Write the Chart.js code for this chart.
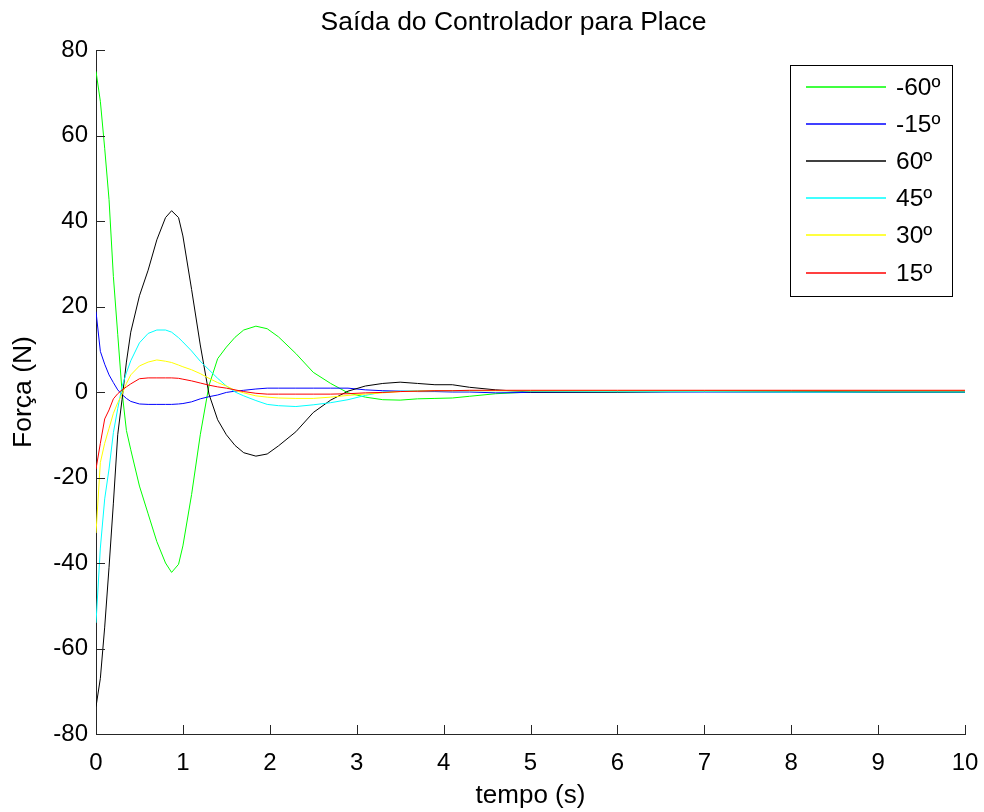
<!DOCTYPE html>
<html>
<head>
<meta charset="utf-8">
<title>Saída do Controlador para Place</title>
<script src="https://cdn.jsdelivr.net/npm/chart.js@4.4.1/dist/chart.umd.min.js"></script>
<style>
  html, body { margin: 0; padding: 0; background: #fff; }
  #wrap { width: 984px; height: 812px; }
</style>
</head>
<body>
<div id="wrap"><canvas id="grafico"></canvas></div>
<script>
// instantes de amostragem (s)
const tempo = [0, 0.05, 0.1, 0.15, 0.2, 0.25, 0.3, 0.35, 0.4, 0.5, 0.6, 0.7, 0.8, 0.87, 0.95, 1.0,
  1.1, 1.2, 1.3, 1.4, 1.5, 1.6, 1.7, 1.84, 1.97, 2.1, 2.3, 2.5, 2.7, 2.9, 3.1, 3.3, 3.5, 3.7, 3.9,
  4.1, 4.3, 4.6, 5, 6, 7, 8, 9, 10];

// força (N) para cada ângulo inicial
const forcaM60 = [75, 68, 57, 45, 27, 13.5, 0, -9, -13.5, -22, -28.5, -35, -40, -42.2, -40.3, -36,
  -24, -10, 1.5, 7.8, 10.5, 12.8, 14.5, 15.4, 14.8, 12.9, 9.0, 4.6, 2.0, -0.2, -1.2, -1.8, -1.9, -1.6, -1.5,
  -1.4, -1.0, -0.4, 0, 0, 0.1, 0, 0, 0];
const forcaM15 = [18.8, 9.5, 6.5, 4, 2.2, 0.5, -0.6, -1.5, -2.2, -2.8, -2.9, -2.9, -2.9, -2.9, -2.8, -2.7,
  -2.3, -1.6, -1.1, -0.7, -0.1, 0.2, 0.4, 0.7, 0.9, 0.9, 0.9, 0.9, 0.9, 0.9, 0.5, 0.3, 0.2, 0.1, 0.1,
  0, 0, -0.2, -0.1, 0, 0, 0, 0, 0];
const forca60 = [-73.6, -67, -55, -41, -26, -10, -1.7, 7, 14, 22.5, 28.5, 35.6, 40.8, 42.4, 40.8, 36.5,
  24, 11, -0.5, -6.5, -10, -12.5, -14.2, -15, -14.5, -12.6, -9.3, -4.8, -1.9, 0.2, 1.4, 2.0, 2.3, 2.0, 1.7,
  1.7, 1.1, 0.5, 0, 0, 0.2, 0.2, 0, 0];
const forca45 = [-54, -36.5, -25, -18, -9.5, -3.9, 1.3, 4.5, 7.3, 11.5, 13.7, 14.5, 14.5, 14, 12.7, 11.7,
  9.6, 7.2, 5.2, 3.2, 1.4, 0, -0.9, -2.0, -2.9, -3.2, -3.4, -3.0, -2.5, -1.8, -0.8, 0, 0.2, 0.3, 0.3,
  0.3, 0.3, 0.3, 0.2, 0.1, 0.1, 0, 0, 0];
const forca30 = [-33, -16.5, -12, -8.5, -5, -2.5, -0.5, 2, 4, 6.1, 7.0, 7.5, 7.2, 6.9, 6.3, 5.9,
  5.2, 4.3, 3.2, 2.2, 1.4, 0.4, -0.2, -0.9, -1.2, -1.4, -1.5, -1.5, -1.2, -0.8, -0.5, -0.2, 0.1, 0.2, 0.3,
  0.3, 0.3, 0.3, 0.3, 0.3, 0.3, 0.3, 0.3, 0.3];
const forca15 = [-18, -12, -6.3, -4.2, -1.6, -0.4, 0.5, 1.2, 1.9, 3.1, 3.3, 3.3, 3.3, 3.3, 3.2, 3.0,
  2.6, 2.1, 1.6, 1.2, 0.9, 0.5, 0.1, -0.3, -0.5, -0.5, -0.5, -0.5, -0.5, -0.4, -0.2, -0.1, 0.1, 0.2, 0.3,
  0.3, 0.4, 0.4, 0.4, 0.4, 0.4, 0.4, 0.4, 0.4];

const rotulos = ['-60º', '-15º', '60º', '45º', '30º', '15º'];
const series = [forcaM60, forcaM15, forca60, forca45, forca30, forca15];
const cores = ['#00ff00', '#0000ff', '#000000', '#00ffff', '#ffff00', '#ff0000'];

const titulo = 'Saída do Controlador para Place';
const FONTE = "'Liberation Sans', Arial, sans-serif";

// título desenhado à mão, um pouco à esquerda do centro do eixo
const tituloPlugin = {
  id: 'tituloPlugin',
  afterDraw(chart) {
    const { ctx, chartArea: a } = chart;
    ctx.save();
    ctx.font = '26.5px ' + FONTE;
    ctx.fillStyle = '#000';
    ctx.textAlign = 'center';
    ctx.textBaseline = 'middle';
    ctx.fillText(titulo, (a.left + a.right) / 2 - 17, 23);
    ctx.restore();
  }
};

// ticks para dentro, estilo matlab
const ticksInternos = {
  id: 'ticksInternos',
  afterDatasetsDraw(chart) {
    const { ctx, chartArea: a, scales: { x, y } } = chart;
    ctx.save();
    ctx.strokeStyle = '#262626';
    ctx.lineWidth = 1;
    ctx.beginPath();
    x.ticks.forEach(t => {
      const px = Math.round(x.getPixelForValue(t.value)) + 0.5;
      ctx.moveTo(px, a.bottom);
      ctx.lineTo(px, a.bottom - 9);
    });
    y.ticks.forEach(t => {
      const py = Math.round(y.getPixelForValue(t.value)) + 0.5;
      ctx.moveTo(a.left, py);
      ctx.lineTo(a.left + 9, py);
    });
    ctx.stroke();
    ctx.restore();
  }
};

// legenda em caixa no canto superior direito
const legendaCaixa = {
  id: 'legendaCaixa',
  afterDraw(chart) {
    const { ctx } = chart;
    const bx = 790.5, by = 65.5, bw = 162, bh = 231;
    ctx.save();
    ctx.fillStyle = '#fff';
    ctx.fillRect(bx, by, bw, bh);
    ctx.strokeStyle = '#000';
    ctx.lineWidth = 1;
    ctx.strokeRect(bx, by, bw, bh);
    ctx.font = '24.5px ' + FONTE;
    ctx.textBaseline = 'middle';
    ctx.textAlign = 'left';
    rotulos.forEach((txt, i) => {
      const ly = Math.round(87 + i * 37.1);
      ctx.beginPath();
      ctx.strokeStyle = cores[i];
      ctx.lineWidth = 1.3;
      ctx.moveTo(806, ly);
      ctx.lineTo(886, ly);
      ctx.stroke();
      ctx.fillStyle = '#000';
      ctx.fillText(txt, 896, ly + 1);
    });
    ctx.restore();
  }
};

new Chart(document.getElementById('grafico'), {
  type: 'line',
  data: {
    datasets: series.map((s, i) => ({
      label: rotulos[i],
      data: tempo.map((t, k) => ({ x: t, y: s[k] })),
      borderColor: cores[i],
      borderWidth: 1,
      pointRadius: 0,
      tension: 0,
      fill: false,
      order: series.length - i
    }))
  },
  options: {
    responsive: true,
    maintainAspectRatio: false,
    animation: false,
    layout: { padding: { left: 0, right: 19, top: 50, bottom: 0 } },
    plugins: {
      legend: { display: false },
      tooltip: { enabled: false },
      title: { display: false }
    },
    scales: {
      x: {
        type: 'linear',
        min: 0,
        max: 10,
        ticks: { stepSize: 1, color: '#000', padding: 15, font: { family: FONTE, size: 24 } },
        grid: { display: false, drawTicks: false },
        border: { display: true, color: '#262626' },
        title: {
          display: true, text: 'tempo (s)', color: '#000',
          font: { family: FONTE, size: 26 }, padding: { top: 0, bottom: 1 }
        },
        afterFit(scale) {
          scale.height = 78;
          scale.paddingLeft = 0;
          scale.paddingRight = 0;
        }
      },
      y: {
        min: -80,
        max: 80,
        ticks: { stepSize: 20, color: '#000', padding: 8, font: { family: FONTE, size: 24 } },
        grid: { display: false, drawTicks: false },
        border: { display: true, color: '#262626' },
        title: {
          display: true, text: 'Força (N)', color: '#000',
          font: { family: FONTE, size: 26.5 }, padding: { top: 8, bottom: 0 }
        },
        afterFit(scale) {
          scale.width = 96;
          scale.paddingTop = 0;
          scale.paddingBottom = 0;
        }
      }
    }
  },
  plugins: [ticksInternos, legendaCaixa, tituloPlugin]
});
</script>
</body>
</html>
